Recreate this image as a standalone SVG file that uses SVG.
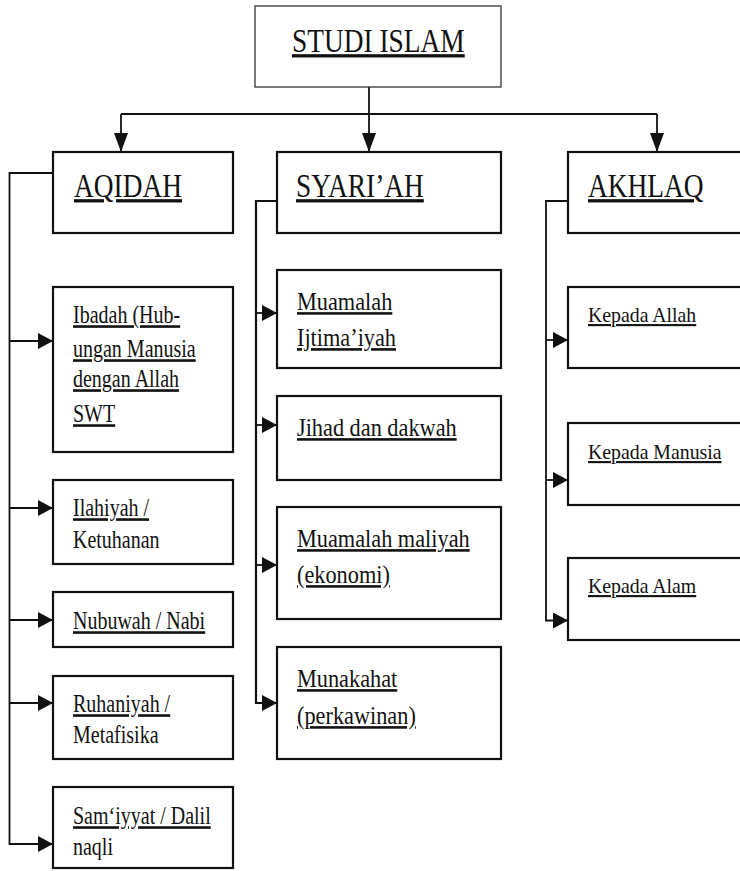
<svg xmlns="http://www.w3.org/2000/svg" width="740" height="871" viewBox="0 0 740 871">
<style>
.bx{fill:#fff;stroke:#111;stroke-width:2.2}
.tb{fill:#fff;stroke:#333;stroke-width:1.3}
.cn{fill:none;stroke:#111;stroke-width:1.8}
.h{font-size:27.4px}
.l{font-size:20px}
.m{font-size:22.3px}
.r{font-size:19.8px}
.u{text-decoration:underline}
</style>
<defs>
<marker id="av" markerUnits="userSpaceOnUse" markerWidth="19" markerHeight="14" refX="19" refY="7" orient="auto"><path d="M0,0 L19,7 L0,14 z" fill="#111"/></marker>
<marker id="ah" markerUnits="userSpaceOnUse" markerWidth="15" markerHeight="16" refX="15" refY="8" orient="auto"><path d="M0,0 L15,8 L0,16 z" fill="#111"/></marker>
</defs>
<rect width="740" height="871" fill="#fff"/>
<g id="connectors">
<path class="cn" d="M369,87 V152" marker-end="url(#av)"/>
<path class="cn" d="M121,114 H657"/>
<path class="cn" d="M121,114 V152" marker-end="url(#av)"/>
<path class="cn" d="M657,114 V152" marker-end="url(#av)"/>
<path class="cn" d="M53,173 H9.5 V844 H53" marker-end="url(#ah)"/>
<path class="cn" d="M9.5,341 H53" marker-end="url(#ah)"/>
<path class="cn" d="M9.5,508 H53" marker-end="url(#ah)"/>
<path class="cn" d="M9.5,620 H53" marker-end="url(#ah)"/>
<path class="cn" d="M9.5,703 H53" marker-end="url(#ah)"/>
<path class="cn" d="M277,201 H256 V703 H277" marker-end="url(#ah)" style="stroke-width:2.2"/>
<path class="cn" d="M256,313 H277" marker-end="url(#ah)"/>
<path class="cn" d="M256,425 H277" marker-end="url(#ah)"/>
<path class="cn" d="M256,565 H277" marker-end="url(#ah)"/>
<path class="cn" d="M568,201 H546 V620.5 H568" marker-end="url(#ah)"/>
<path class="cn" d="M546,340 H568" marker-end="url(#ah)"/>
<path class="cn" d="M546,480 H568" marker-end="url(#ah)"/>
</g>
<g font-family="Liberation Serif, DejaVu Serif, serif" fill="#111">
<g id="studi-islam"><rect class="tb" x="255" y="6" width="246" height="81"/><text class="h u" transform="translate(292,52) scale(1,1.2)">STUDI ISLAM</text></g>
<g id="aqidah"><rect class="bx" x="53" y="152" width="180" height="81"/><text class="h u" transform="translate(74,197) scale(1,1.2)">AQIDAH</text></g>
<g id="syariah"><rect class="bx" x="277" y="152" width="224" height="81"/><text class="h u" transform="translate(296,197) scale(1,1.2)">SYARI’AH</text></g>
<g id="akhlaq"><rect class="bx" x="568" y="152" width="200" height="81"/><text class="h u" transform="translate(588,197) scale(1,1.2)">AKHLAQ</text></g>
<g id="ibadah"><rect class="bx" x="53" y="287" width="180" height="165"/>
<text class="l u" transform="translate(73,323) scale(1,1.3)">Ibadah (Hub-</text>
<text class="l u" transform="translate(73,357) scale(1,1.3)">ungan Manusia</text>
<text class="l u" transform="translate(73,387) scale(1,1.3)">dengan Allah</text>
<text class="l u" transform="translate(73,422) scale(1,1.3)">SWT</text></g>
<g id="ilahiyah"><rect class="bx" x="53" y="480" width="180" height="84"/>
<text class="l u" transform="translate(73,516) scale(1,1.3)">Ilahiyah /</text>
<text class="l" transform="translate(73,548) scale(1,1.3)">Ketuhanan</text></g>
<g id="nubuwah"><rect class="bx" x="53" y="592" width="180" height="55"/>
<text class="l u" transform="translate(73,629) scale(1,1.3)">Nubuwah / Nabi</text></g>
<g id="ruhaniyah"><rect class="bx" x="53" y="676" width="180" height="83"/>
<text class="l u" transform="translate(73,712) scale(1,1.3)">Ruhaniyah /</text>
<text class="l" transform="translate(73,743) scale(1,1.3)">Metafisika</text></g>
<g id="samiyyat"><rect class="bx" x="53" y="787" width="180" height="81"/>
<text class="l u" transform="translate(73,824) scale(1,1.3)">Sam‘iyyat / Dalil</text>
<text class="l" transform="translate(73,855) scale(1,1.3)">naqli</text></g>
<g id="muamalah-ijtimaiyah"><rect class="bx" x="277" y="270" width="224" height="98"/>
<text class="m u" transform="translate(297,310) scale(1,1.15)">Muamalah</text>
<text class="m u" transform="translate(297,346) scale(1,1.15)">Ijtima’iyah</text></g>
<g id="jihad"><rect class="bx" x="277" y="396" width="224" height="84"/>
<text class="m u" transform="translate(297,436) scale(1,1.15)">Jihad dan dakwah</text></g>
<g id="muamalah-maliyah"><rect class="bx" x="277" y="507" width="224" height="112"/>
<text class="m u" transform="translate(297,547) scale(1,1.15)">Muamalah maliyah</text>
<text class="m u" transform="translate(297,583) scale(1,1.15)">(ekonomi)</text></g>
<g id="munakahat"><rect class="bx" x="277" y="647" width="224" height="112"/>
<text class="m u" transform="translate(297,687) scale(1,1.15)">Munakahat</text>
<text class="m u" transform="translate(297,724) scale(1,1.15)">(perkawinan)</text></g>
<g id="kepada-allah"><rect class="bx" x="568" y="287" width="200" height="81"/>
<text class="r u" transform="translate(588,322) scale(1,1.06)">Kepada Allah</text></g>
<g id="kepada-manusia"><rect class="bx" x="568" y="423" width="200" height="82"/>
<text class="r u" transform="translate(588,459) scale(1,1.06)">Kepada Manusia</text></g>
<g id="kepada-alam"><rect class="bx" x="568" y="558" width="200" height="82"/>
<text class="r u" transform="translate(588,593) scale(1,1.06)">Kepada Alam</text></g>
</g>
</svg>
